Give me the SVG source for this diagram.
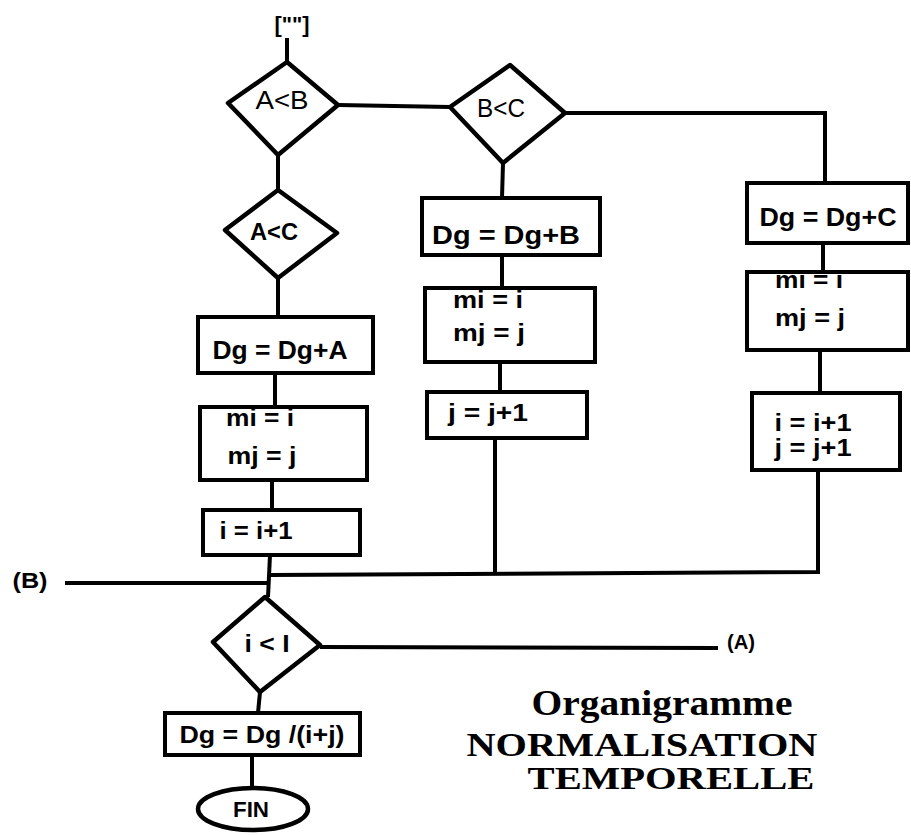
<svg xmlns="http://www.w3.org/2000/svg" width="911" height="835" viewBox="0 0 911 835">
<style>
.shape{fill:#fff;stroke:#000;stroke-width:4.5;stroke-linejoin:round}
.box{fill:#fff;stroke:#000;stroke-width:4}
.wire{fill:none;stroke:#000;stroke-width:4}
.t{font-family:"Liberation Sans",Arial,sans-serif;font-weight:bold;fill:#000;text-anchor:middle;dominant-baseline:central}
.tn{font-family:"Liberation Sans",Arial,sans-serif;font-weight:normal;fill:#000;text-anchor:middle;dominant-baseline:central}
.title{font-family:"Liberation Serif","Times New Roman",serif;font-weight:bold;fill:#000;text-anchor:middle}
</style>
<rect x="0" y="0" width="911" height="835" fill="#fff"/>
<g id="connectors">
<path class="wire" d="M287,38 L287,62"/>
<path class="wire" d="M338,105 L450,107"/>
<path class="wire" d="M278,155 L278,190"/>
<path class="wire" d="M278,278 L278,317"/>
<path class="wire" d="M275,373 L275,407"/>
<path class="wire" d="M272,480 L272,510"/>
<path class="wire" d="M270,555 L268,597"/>
<path class="wire" d="M270,575 L818,572 L818,470"/>
<path class="wire" d="M65,583 L270,583"/>
<path class="wire" d="M565,113 L825,113 L825,183"/>
<path class="wire" d="M503,163 L502,198"/>
<path class="wire" d="M502,255 L502,288"/>
<path class="wire" d="M500,362 L500,392"/>
<path class="wire" d="M495,438 L495,575"/>
<path class="wire" d="M823,243 L823,272"/>
<path class="wire" d="M820,350 L820,393"/>
<path class="wire" d="M320,647 L718,648"/>
<path class="wire" d="M260,692 L258,713"/>
<path class="wire" d="M252,755 L252,788"/>
</g>
<g id="start">
<text class="t" x="292" y="24" font-size="22" textLength="35" lengthAdjust="spacingAndGlyphs">[""]</text>
</g>
<g id="AltB">
<polygon class="shape" points="228,103 287,62 338,105 278,155"/>
<text class="tn" x="282" y="100" font-size="25" textLength="53" lengthAdjust="spacingAndGlyphs">A&lt;B</text>
</g>
<g id="BltC">
<polygon class="shape" points="450,107 510,65 565,113 503,163"/>
<text class="tn" x="501" y="108" font-size="25" textLength="48" lengthAdjust="spacingAndGlyphs">B&lt;C</text>
</g>
<g id="AltC">
<polygon class="shape" points="225,230 278,190 337,233 278,278"/>
<text class="t" x="274" y="231" font-size="24" textLength="48" lengthAdjust="spacingAndGlyphs">A&lt;C</text>
</g>
<g id="DgA">
<rect class="box" x="198" y="317" width="175" height="56"/>
<text class="t" x="280" y="350" font-size="26" textLength="135" lengthAdjust="spacingAndGlyphs">Dg = Dg+A</text>
</g>
<g id="mA">
<rect class="box" x="200" y="407" width="167" height="73"/>
<text class="t" x="260" y="417" font-size="24" textLength="68" lengthAdjust="spacingAndGlyphs">mi = i</text>
<text class="t" x="262" y="455" font-size="24" textLength="69" lengthAdjust="spacingAndGlyphs">mj = j</text>
</g>
<g id="iA">
<rect class="box" x="203" y="510" width="157" height="45"/>
<text class="t" x="256" y="530" font-size="24" textLength="73" lengthAdjust="spacingAndGlyphs">i = i+1</text>
</g>
<g id="DgB">
<rect class="box" x="422" y="198" width="178" height="57"/>
<text class="t" x="506" y="235" font-size="26" textLength="148" lengthAdjust="spacingAndGlyphs">Dg = Dg+B</text>
</g>
<g id="mB">
<rect class="box" x="425" y="288" width="170" height="74"/>
<text class="t" x="488" y="299" font-size="24" textLength="70" lengthAdjust="spacingAndGlyphs">mi = i</text>
<text class="t" x="489" y="332" font-size="24" textLength="72" lengthAdjust="spacingAndGlyphs">mj = j</text>
</g>
<g id="jB">
<rect class="box" x="427" y="392" width="160" height="46"/>
<text class="t" x="488" y="412" font-size="24" textLength="80" lengthAdjust="spacingAndGlyphs">j = j+1</text>
</g>
<g id="DgC">
<rect class="box" x="747" y="183" width="161" height="60"/>
<text class="t" x="828" y="217" font-size="26" textLength="137" lengthAdjust="spacingAndGlyphs">Dg = Dg+C</text>
</g>
<g id="mC">
<rect class="box" x="747" y="272" width="161" height="78"/>
<text class="t" x="809" y="279" font-size="24" textLength="68" lengthAdjust="spacingAndGlyphs">mi = i</text>
<text class="t" x="810" y="317" font-size="24" textLength="70" lengthAdjust="spacingAndGlyphs">mj = j</text>
</g>
<g id="ijC">
<rect class="box" x="752" y="393" width="148" height="77"/>
<text class="t" x="813" y="422" font-size="24" textLength="77" lengthAdjust="spacingAndGlyphs">i = i+1</text>
<text class="t" x="813" y="447" font-size="24" textLength="77" lengthAdjust="spacingAndGlyphs">j = j+1</text>
</g>
<g id="labelB">
<text class="t" x="30" y="580" font-size="22" textLength="35" lengthAdjust="spacingAndGlyphs">(B)</text>
</g>
<g id="iltI">
<polygon class="shape" points="213,642 265,597 320,645 260,692"/>
<text class="t" x="267" y="643" font-size="24" textLength="45" lengthAdjust="spacingAndGlyphs">i &lt; I</text>
</g>
<g id="labelA">
<text class="t" x="741" y="642" font-size="20" textLength="28" lengthAdjust="spacingAndGlyphs">(A)</text>
</g>
<g id="DgFinal">
<rect class="box" x="165" y="713" width="195" height="42"/>
<text class="t" x="262" y="734" font-size="24" textLength="165" lengthAdjust="spacingAndGlyphs">Dg = Dg /(i+j)</text>
</g>
<g id="FIN">
<ellipse class="shape" cx="253" cy="809" rx="55" ry="21"/>
<text class="t" x="251" y="809" font-size="22" textLength="36" lengthAdjust="spacingAndGlyphs">FIN</text>
</g>
<g id="title">
<text class="title" x="662" y="715" font-size="36" textLength="261" lengthAdjust="spacingAndGlyphs">Organigramme</text>
<text class="title" x="642" y="756" font-size="33" textLength="351" lengthAdjust="spacingAndGlyphs">NORMALISATION</text>
<text class="title" x="671" y="789" font-size="31" textLength="287" lengthAdjust="spacingAndGlyphs">TEMPORELLE</text>
</g>
</svg>
